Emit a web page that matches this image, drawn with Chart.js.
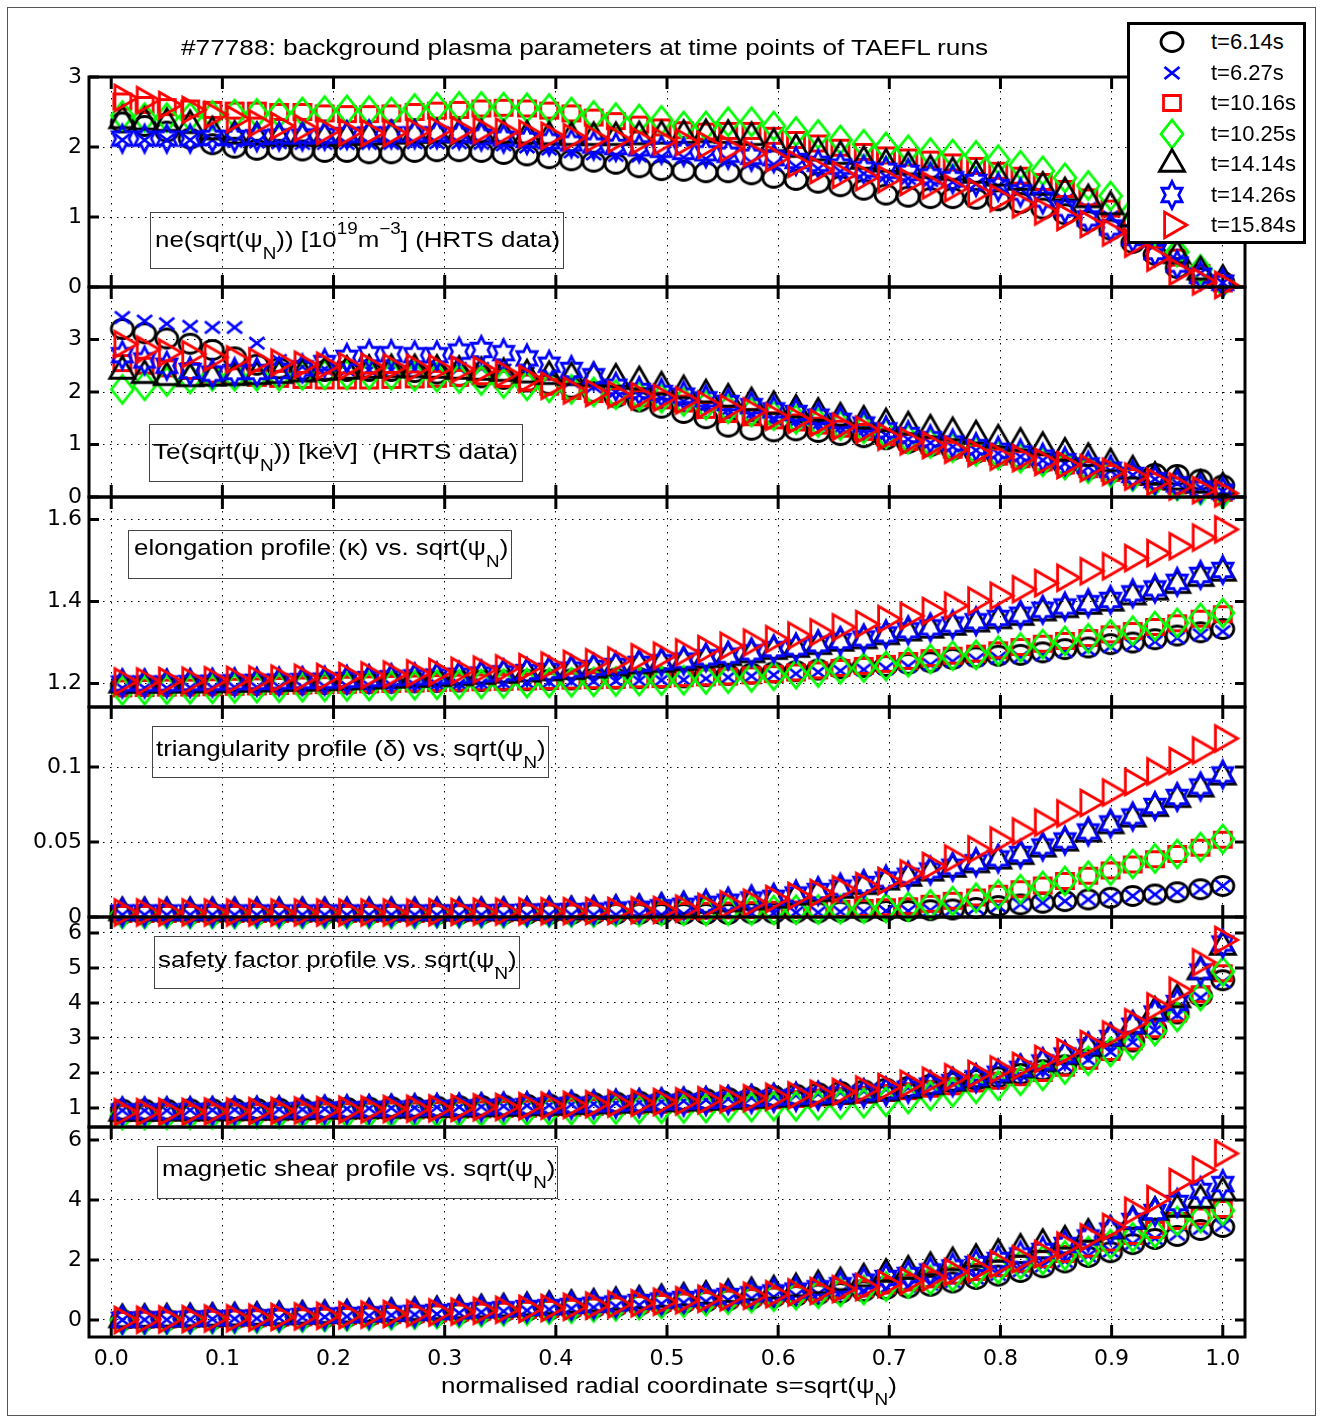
<!DOCTYPE html>
<html>
<head>
<meta charset="utf-8">
<script src="https://cdn.jsdelivr.net/npm/chart.js@4.4.1/dist/chart.umd.min.js"></script>
<style>
  html, body { margin: 0; padding: 0; background: #fff; }
  #fig { position: relative; width: 1322px; height: 1421px; overflow: hidden;
         font-family: "Liberation Sans", Arial, sans-serif; color: #000; }
  #outer { position: absolute; left: 7px; top: 7px; width: 1309px; height: 1409px;
           border: 1px solid #555; box-sizing: border-box; }
  canvas.panel { position: absolute; left: 0; }
  .txt { position: absolute; white-space: nowrap; font-size: 22px; line-height: 1;
         transform-origin: 0 50%; transform: translateY(-50%); z-index: 5; }
  .txt sub { font-size: 16px; position: relative; top: 12px; vertical-align: baseline; }
  .txt sup { font-size: 16px; position: relative; top: -13px; vertical-align: baseline; }
  .box { position: absolute; border: 1px solid #444; box-sizing: border-box; z-index: 4; }
  #legend { position: absolute; left: 1127px; top: 22px; width: 179px; height: 222px;
            background: #fff; border: 3px solid #000; box-sizing: border-box; z-index: 10; }
  .lgmark { position: absolute; }
  .lgtext { position: absolute; font-size: 22px; line-height: 1; transform: translateY(-50%); white-space: nowrap; }
</style>
</head>
<body>
<div id="fig">
  <div id="outer"></div>

  <div class="txt" data-w="807" style="left:181px;top:48px">#77788: background plasma parameters at time points of TAEFL runs</div>

  <div class="box" style="left:150px;top:212px;width:414px;height:57px"></div>
  <div class="txt" data-w="405" style="left:155px;top:240px">ne(sqrt(ψ<sub>N</sub>)) [10<sup>19</sup>m<sup>−3</sup>] (HRTS data)</div>

  <div class="box" style="left:149px;top:424px;width:374px;height:58px"></div>
  <div class="txt" data-w="365" style="left:153px;top:452px">Te(sqrt(ψ<sub>N</sub>)) [keV]&nbsp; (HRTS data)</div>

  <div class="box" style="left:128px;top:530px;width:384px;height:49px"></div>
  <div class="txt" data-w="374" style="left:134px;top:548px">elongation profile (κ) vs. sqrt(ψ<sub>N</sub>)</div>

  <div class="box" style="left:152px;top:726px;width:397px;height:52px"></div>
  <div class="txt" data-w="390" style="left:156px;top:749px">triangularity profile (δ) vs. sqrt(ψ<sub>N</sub>)</div>

  <div class="box" style="left:154px;top:936px;width:366px;height:53px"></div>
  <div class="txt" data-w="359" style="left:158px;top:960px">safety factor profile vs. sqrt(ψ<sub>N</sub>)</div>

  <div class="box" style="left:157px;top:1146px;width:401px;height:53px"></div>
  <div class="txt" data-w="393" style="left:162px;top:1169px">magnetic shear profile vs. sqrt(ψ<sub>N</sub>)</div>

  <div class="txt" data-w="456" style="left:441px;top:1386px">normalised radial coordinate s=sqrt(ψ<sub>N</sub>)</div>

  <div id="legend"></div>
</div>

<script>
// radial grid s = sqrt(psi_N), one entry per marker
const sPos = [
  0.010, 0.030, 0.050, 0.071, 0.091, 0.111, 0.131, 0.151, 0.172, 0.192,
  0.212, 0.232, 0.252, 0.273, 0.293, 0.313, 0.333, 0.353, 0.374, 0.394,
  0.414, 0.434, 0.454, 0.475, 0.495, 0.515, 0.535, 0.555, 0.576, 0.596,
  0.616, 0.636, 0.656, 0.677, 0.697, 0.717, 0.737, 0.757, 0.778, 0.798,
  0.818, 0.838, 0.858, 0.879, 0.899, 0.919, 0.939, 0.959, 0.980, 1.000
];

const seriesLabels = ['t=6.14s', 't=6.27s', 't=10.16s', 't=10.25s', 't=14.14s', 't=14.26s', 't=15.84s'];

const xTicks = [0, 0.1, 0.2, 0.3, 0.4, 0.5, 0.6, 0.7, 0.8, 0.9, 1.0];
const xTickLabels = ['0.0', '0.1', '0.2', '0.3', '0.4', '0.5', '0.6', '0.7', '0.8', '0.9', '1.0'];

const neTicks = [0, 1, 2, 3];          const neTickLabels = ['0', '1', '2', '3'];
const teTicks = [0, 1, 2, 3];          const teTickLabels = ['0', '1', '2', '3'];
const kapTicks = [1.2, 1.4, 1.6];      const kapTickLabels = ['1.2', '1.4', '1.6'];
const delTicks = [0, 0.05, 0.1];       const delTickLabels = ['0', '0.05', '0.1'];
const qTicks = [1, 2, 3, 4, 5, 6];     const qTickLabels = ['1', '2', '3', '4', '5', '6'];
const shTicks = [0, 2, 4, 6];          const shTickLabels = ['0', '2', '4', '6'];

// ne [1e19 m^-3]
const neCirc = [2.35,2.3,2.22,2.12,2.04,1.99,1.96,1.96,1.95,1.93, 1.93,1.91,1.91,1.93,1.94,1.94,1.93,1.9,1.88,1.84,
  1.81,1.79,1.76,1.71,1.67,1.66,1.64,1.64,1.61,1.56, 1.53,1.49,1.44,1.39,1.32,1.29,1.27,1.27,1.26,1.24,
  1.2,1.12,1.04,0.94,0.82,0.63,0.46,0.27,0.13,0.07];
const neX = [2.1,2.1,2.1,2.1,2.1,2.08,2.07,2.06,2.05,2.05, 2.05,2.05,2.05,2.06,2.06,2.06,2.05,2.03,2.0,1.97,
  1.93,1.9,1.88,1.87,1.86,1.85,1.83,1.81,1.78,1.75, 1.72,1.69,1.65,1.62,1.58,1.55,1.52,1.5,1.47,1.44,
  1.4,1.33,1.24,1.12,1.0,0.8,0.6,0.38,0.2,0.06];
const neSq = [2.65,2.6,2.57,2.55,2.53,2.52,2.52,2.5,2.5,2.48, 2.47,2.47,2.48,2.5,2.52,2.53,2.55,2.56,2.55,2.52,
  2.48,2.42,2.37,2.32,2.28,2.24,2.22,2.23,2.23,2.16, 2.1,2.05,1.99,1.93,1.88,1.85,1.82,1.78,1.73,1.66,
  1.59,1.5,1.4,1.28,1.12,0.92,0.68,0.42,0.2,0.05];
const neDiam = [2.45,2.42,2.42,2.43,2.45,2.47,2.48,2.48,2.5,2.52, 2.53,2.52,2.5,2.55,2.57,2.58,2.58,2.57,2.56,2.55,
  2.5,2.45,2.42,2.4,2.38,2.3,2.3,2.36,2.36,2.3, 2.22,2.18,2.1,2.04,2.0,1.96,1.92,1.9,1.88,1.82,
  1.74,1.66,1.56,1.45,1.3,1.08,0.8,0.5,0.25,0.06];
const neTri = [2.38,2.36,2.34,2.31,2.22,2.16,2.14,2.13,2.13,2.13, 2.14,2.15,2.16,2.17,2.18,2.18,2.18,2.17,2.16,2.15,
  2.14,2.14,2.14,2.15,2.16,2.17,2.18,2.17,2.14,2.05, 1.97,1.92,1.87,1.8,1.76,1.72,1.67,1.64,1.6,1.56,
  1.5,1.43,1.35,1.25,1.15,0.98,0.75,0.45,0.22,0.1];
const neHex = [2.12,2.12,2.12,2.12,2.13,2.13,2.14,2.15,2.15,2.16, 2.17,2.18,2.18,2.18,2.18,2.17,2.15,2.12,2.1,2.08,
  2.05,2.02,2.0,1.98,1.96,1.93,1.91,1.89,1.86,1.84, 1.8,1.76,1.72,1.68,1.66,1.63,1.58,1.54,1.5,1.43,
  1.35,1.25,1.12,0.98,0.85,0.7,0.5,0.32,0.16,0.06];
const neRtri = [2.7,2.67,2.6,2.53,2.46,2.4,2.34,2.3,2.27,2.23, 2.21,2.2,2.2,2.22,2.24,2.24,2.24,2.22,2.19,2.16,
  2.14,2.12,2.11,2.09,2.08,2.07,2.03,1.98,1.91,1.84, 1.76,1.67,1.6,1.57,1.54,1.5,1.45,1.41,1.35,1.27,
  1.18,1.08,1.0,0.9,0.78,0.62,0.42,0.22,0.08,0.03];

// Te [keV]
const teCirc = [3.2,3.12,3.02,2.92,2.8,2.66,2.52,2.45,2.42,2.4, 2.4,2.4,2.4,2.38,2.35,2.3,2.28,2.25,2.2,2.15,
  2.08,2.0,1.9,1.82,1.7,1.6,1.5,1.34,1.28,1.25, 1.27,1.24,1.18,1.14,1.1,1.03,0.97,0.9,0.84,0.78,
  0.73,0.66,0.6,0.53,0.47,0.42,0.44,0.42,0.33,0.22];
const teX = [3.42,3.35,3.3,3.25,3.23,3.23,2.93,2.6,2.48,2.44, 2.42,2.42,2.42,2.43,2.45,2.45,2.45,2.42,2.36,2.3,
  2.2,2.1,2.0,1.94,1.88,1.82,1.74,1.66,1.58,1.5, 1.44,1.38,1.32,1.26,1.18,1.1,1.03,0.96,0.89,0.83,
  0.77,0.7,0.64,0.57,0.5,0.42,0.34,0.26,0.18,0.11];
const teSq = [2.55,2.5,2.45,2.4,2.33,2.3,2.27,2.25,2.23,2.22, 2.22,2.22,2.23,2.24,2.25,2.27,2.3,2.25,2.18,2.1,
  2.02,1.96,1.92,1.88,1.84,1.78,1.66,1.58,1.52,1.46, 1.42,1.36,1.3,1.24,1.14,1.05,0.98,0.9,0.84,0.77,
  0.72,0.66,0.6,0.53,0.46,0.38,0.3,0.22,0.14,0.08];
const teDiam = [2.05,2.12,2.2,2.25,2.3,2.3,2.3,2.3,2.32,2.33, 2.33,2.33,2.32,2.3,2.28,2.26,2.22,2.16,2.12,2.08,
  2.05,2.0,1.95,1.92,1.88,1.82,1.75,1.68,1.62,1.55, 1.48,1.42,1.36,1.3,1.2,1.1,1.02,0.94,0.87,0.8,
  0.74,0.67,0.61,0.54,0.47,0.39,0.3,0.21,0.13,0.06];
const teTri = [2.4,2.32,2.28,2.26,2.27,2.28,2.3,2.32,2.35,2.38, 2.4,2.42,2.43,2.43,2.42,2.4,2.38,2.36,2.33,2.3,
  2.28,2.27,2.25,2.2,2.1,2.03,1.95,1.87,1.8,1.73, 1.66,1.6,1.51,1.45,1.4,1.34,1.28,1.23,1.17,1.09,
  1.03,0.95,0.84,0.74,0.64,0.5,0.38,0.29,0.23,0.18];
const teHex = [2.7,2.6,2.5,2.4,2.35,2.38,2.38,2.4,2.45,2.55, 2.65,2.72,2.72,2.7,2.7,2.77,2.8,2.74,2.64,2.52,
  2.42,2.3,2.1,2.02,1.98,1.93,1.86,1.79,1.73,1.65, 1.6,1.53,1.45,1.38,1.27,1.18,1.1,1.02,0.95,0.88,
  0.83,0.75,0.68,0.6,0.52,0.42,0.32,0.24,0.16,0.1];
const teRtri = [2.91,2.81,2.75,2.72,2.66,2.62,2.58,2.56,2.52,2.5, 2.49,2.48,2.47,2.46,2.45,2.43,2.42,2.35,2.25,2.12,
  2.03,1.98,1.95,1.92,1.89,1.84,1.76,1.69,1.63,1.53, 1.47,1.41,1.34,1.28,1.15,1.06,0.99,0.9,0.84,0.77,
  0.74,0.67,0.61,0.55,0.48,0.39,0.29,0.2,0.13,0.07];

// elongation kappa
const kapCirc = [1.195,1.195,1.195,1.196,1.196,1.197,1.197,1.198,1.198,1.199, 1.2,1.201,1.202,1.203,1.204,1.205,1.206,1.207,1.208,1.209,
  1.21,1.211,1.212,1.213,1.214,1.215,1.218,1.221,1.224,1.227, 1.23,1.234,1.237,1.24,1.243,1.248,1.252,1.26,1.264,1.268,
  1.27,1.276,1.284,1.288,1.296,1.3,1.308,1.317,1.325,1.333];
const kapX = [1.189,1.189,1.189,1.19,1.19,1.191,1.191,1.192,1.192,1.193, 1.194,1.195,1.196,1.197,1.198,1.199,1.2,1.201,1.202,1.203,
  1.204,1.205,1.206,1.207,1.208,1.209,1.212,1.215,1.218,1.221, 1.224,1.228,1.231,1.234,1.237,1.242,1.246,1.254,1.258,1.262,
  1.264,1.27,1.278,1.282,1.29,1.294,1.302,1.311,1.319,1.327];
const kapSq = [1.188,1.189,1.19,1.19,1.191,1.192,1.193,1.194,1.195,1.196, 1.197,1.198,1.199,1.2,1.201,1.202,1.203,1.204,1.205,1.206,
  1.207,1.208,1.209,1.21,1.211,1.213,1.215,1.217,1.22,1.223, 1.227,1.232,1.238,1.243,1.248,1.255,1.262,1.268,1.273,1.281,
  1.289,1.297,1.304,1.311,1.32,1.328,1.338,1.347,1.358,1.369];
const kapDiam = [1.183,1.184,1.185,1.186,1.187,1.188,1.189,1.19,1.191,1.192, 1.193,1.194,1.195,1.196,1.197,1.198,1.199,1.2,1.201,1.202,
  1.203,1.204,1.205,1.206,1.207,1.208,1.21,1.212,1.215,1.219, 1.223,1.227,1.235,1.239,1.243,1.252,1.26,1.268,1.27,1.28,
  1.288,1.296,1.304,1.31,1.32,1.329,1.34,1.348,1.36,1.372];
const kapTri = [1.197,1.197,1.197,1.198,1.198,1.199,1.2,1.201,1.202,1.203, 1.205,1.207,1.209,1.211,1.213,1.215,1.218,1.221,1.224,1.227,
  1.23,1.234,1.239,1.244,1.248,1.252,1.259,1.264,1.271,1.279, 1.284,1.291,1.299,1.305,1.315,1.324,1.331,1.338,1.346,1.354,
  1.362,1.373,1.381,1.389,1.397,1.412,1.424,1.44,1.457,1.47];
const kapHex = [1.2,1.2,1.2,1.201,1.202,1.203,1.204,1.205,1.206,1.207, 1.209,1.211,1.213,1.215,1.217,1.219,1.222,1.225,1.228,1.231,
  1.234,1.238,1.243,1.248,1.252,1.256,1.264,1.268,1.276,1.284, 1.288,1.296,1.304,1.31,1.32,1.33,1.337,1.344,1.352,1.36,
  1.368,1.38,1.388,1.396,1.404,1.42,1.432,1.448,1.465,1.477];
const kapRtri = [1.205,1.205,1.206,1.207,1.208,1.209,1.21,1.212,1.214,1.216, 1.218,1.22,1.222,1.225,1.228,1.231,1.234,1.237,1.24,1.244,
  1.248,1.252,1.256,1.264,1.268,1.276,1.284,1.292,1.3,1.308, 1.317,1.325,1.337,1.345,1.357,1.365,1.377,1.39,1.402,1.414,
  1.43,1.445,1.458,1.474,1.486,1.506,1.518,1.535,1.556,1.576];

// triangularity delta
const delCirc = [0.002,0.002,0.002,0.002,0.002,0.002,0.002,0.002,0.002,0.002, 0.002,0.002,0.002,0.002,0.002,0.002,0.002,0.002,0.002,0.002,
  0.002,0.002,0.002,0.002,0.002,0.002,0.002,0.002,0.0025,0.0025, 0.003,0.003,0.0035,0.0035,0.004,0.004,0.0045,0.005,0.006,0.0073,
  0.0084,0.0095,0.0106,0.0117,0.0128,0.014,0.015,0.0165,0.0185,0.0207];
const delX = [0.0015,0.0015,0.0015,0.0015,0.0015,0.0015,0.0015,0.0015,0.0015,0.0015, 0.0015,0.0015,0.0015,0.0015,0.0015,0.0015,0.0015,0.0015,0.0015,0.0015,
  0.0015,0.0015,0.0015,0.0015,0.0015,0.002,0.002,0.002,0.0025,0.0025, 0.003,0.003,0.0035,0.0035,0.004,0.004,0.0045,0.005,0.006,0.0073,
  0.0084,0.0095,0.0106,0.0117,0.0128,0.014,0.015,0.0165,0.0185,0.0207];
const delSq = [0.002,0.002,0.002,0.002,0.002,0.002,0.002,0.002,0.002,0.002, 0.002,0.002,0.002,0.002,0.0025,0.0025,0.0025,0.0025,0.003,0.003,
  0.003,0.003,0.0035,0.0035,0.004,0.004,0.0042,0.0044,0.0046,0.0048, 0.005,0.0052,0.0055,0.006,0.0065,0.0072,0.0088,0.0108,0.013,0.0155,
  0.0185,0.021,0.024,0.0275,0.031,0.035,0.0385,0.042,0.0462,0.0515];
const delDiam = [0.002,0.002,0.002,0.002,0.002,0.002,0.002,0.002,0.002,0.002, 0.002,0.002,0.002,0.002,0.0025,0.0025,0.0025,0.0025,0.003,0.003,
  0.003,0.003,0.0035,0.0035,0.004,0.004,0.004,0.0042,0.0044,0.0046, 0.0048,0.005,0.0052,0.0055,0.006,0.0068,0.0084,0.0106,0.0128,0.015,
  0.0185,0.0207,0.024,0.0275,0.031,0.0354,0.039,0.042,0.0466,0.052];
const delTri = [0.003,0.003,0.003,0.003,0.003,0.003,0.003,0.003,0.003,0.003, 0.003,0.003,0.003,0.003,0.003,0.003,0.0031,0.0032,0.0033,0.0035,
  0.0037,0.004,0.0045,0.005,0.0058,0.0067,0.0078,0.009,0.0103,0.0115, 0.0135,0.0158,0.018,0.0205,0.0235,0.026,0.0295,0.032,0.035,0.0375,
  0.0405,0.0455,0.0495,0.0555,0.061,0.0655,0.0725,0.0785,0.0855,0.0935];
const delHex = [0.003,0.003,0.003,0.003,0.003,0.003,0.003,0.003,0.003,0.003, 0.003,0.003,0.003,0.003,0.003,0.003,0.0032,0.0034,0.0036,0.0038,
  0.004,0.0043,0.005,0.0055,0.0065,0.0075,0.0088,0.0102,0.0117,0.0128, 0.015,0.0173,0.0196,0.022,0.025,0.0275,0.031,0.0335,0.0365,0.039,
  0.042,0.047,0.051,0.057,0.0624,0.067,0.074,0.08,0.087,0.095];
const delRtri = [0.003,0.003,0.003,0.003,0.003,0.003,0.003,0.003,0.003,0.003, 0.003,0.003,0.003,0.003,0.0032,0.0034,0.0035,0.0036,0.0037,0.0038,
  0.0039,0.004,0.004,0.0045,0.0047,0.0056,0.0068,0.0085,0.0095,0.012, 0.014,0.016,0.0185,0.0207,0.024,0.029,0.034,0.039,0.045,0.051,
  0.057,0.063,0.069,0.076,0.083,0.09,0.097,0.104,0.111,0.119];

// safety factor q
const qCirc = [0.95,0.95,0.95,0.96,0.96,0.97,0.97,0.98,0.98,0.99, 1.0,1.01,1.02,1.03,1.04,1.05,1.06,1.07,1.09,1.1,
  1.12,1.14,1.16,1.18,1.2,1.22,1.25,1.28,1.31,1.34, 1.38,1.42,1.46,1.5,1.55,1.6,1.66,1.72,1.8,1.88,
  1.97,2.08,2.22,2.4,2.62,2.9,3.25,3.7,4.2,4.65];
const qX = [0.93,0.93,0.93,0.94,0.94,0.95,0.95,0.96,0.96,0.97, 0.98,0.99,1.0,1.01,1.02,1.03,1.04,1.05,1.07,1.08,
  1.1,1.12,1.14,1.16,1.18,1.2,1.23,1.26,1.29,1.32, 1.36,1.4,1.44,1.48,1.53,1.58,1.64,1.7,1.78,1.86,
  1.95,2.06,2.2,2.38,2.6,2.88,3.22,3.65,4.15,4.6];
const qSq = [0.85,0.85,0.86,0.86,0.87,0.87,0.88,0.88,0.89,0.9, 0.91,0.92,0.93,0.93,0.94,0.95,0.96,0.97,0.98,1.0,
  1.01,1.03,1.05,1.07,1.09,1.11,1.13,1.16,1.19,1.22, 1.26,1.3,1.34,1.38,1.43,1.48,1.55,1.62,1.7,1.78,
  1.88,2.0,2.15,2.35,2.6,2.9,3.25,3.7,4.25,4.85];
const qDiam = [0.8,0.8,0.81,0.81,0.82,0.82,0.83,0.83,0.84,0.84, 0.85,0.86,0.87,0.87,0.88,0.89,0.9,0.91,0.92,0.93,
  0.94,0.95,0.96,0.97,0.98,0.99,1.0,1.02,1.03,1.05, 1.05,1.08,1.11,1.14,1.18,1.26,1.35,1.45,1.55,1.64,
  1.78,1.92,2.1,2.35,2.6,2.8,3.2,3.6,4.2,4.9];
const qTri = [0.86,0.86,0.87,0.87,0.88,0.88,0.89,0.9,0.91,0.92, 0.93,0.94,0.95,0.96,0.97,0.98,0.99,1.0,1.02,1.03,
  1.05,1.07,1.09,1.11,1.13,1.15,1.17,1.2,1.23,1.26, 1.29,1.32,1.35,1.39,1.44,1.52,1.62,1.72,1.82,1.95,
  2.1,2.28,2.48,2.72,3.0,3.35,3.75,4.1,4.9,5.6];
const qHex = [0.9,0.9,0.9,0.91,0.91,0.92,0.92,0.93,0.94,0.95, 0.96,0.97,0.98,0.99,1.0,1.01,1.02,1.04,1.05,1.07,
  1.09,1.1,1.12,1.14,1.16,1.18,1.2,1.23,1.26,1.29, 1.32,1.35,1.38,1.42,1.47,1.55,1.64,1.74,1.85,1.98,
  2.12,2.3,2.5,2.75,3.0,3.35,3.7,4.0,4.9,5.7];
const qRtri = [0.88,0.88,0.89,0.89,0.9,0.9,0.91,0.92,0.93,0.94, 0.95,0.96,0.97,0.98,0.99,1.0,1.02,1.03,1.05,1.07,
  1.09,1.11,1.13,1.15,1.17,1.19,1.22,1.25,1.28,1.32, 1.36,1.41,1.46,1.53,1.6,1.69,1.78,1.88,1.97,2.1,
  2.2,2.4,2.6,2.83,3.1,3.45,3.9,4.35,5.16,5.8];

// magnetic shear
const shCirc = [0.0,0.0,0.01,0.02,0.03,0.04,0.05,0.06,0.08,0.09, 0.11,0.13,0.15,0.17,0.19,0.22,0.25,0.28,0.31,0.34,
  0.37,0.41,0.45,0.49,0.53,0.57,0.61,0.66,0.71,0.76, 0.8,0.85,0.9,0.96,1.03,1.08,1.14,1.25,1.37,1.48,
  1.6,1.76,1.92,2.1,2.26,2.53,2.7,2.8,3.0,3.1];
const shX = [0.0,0.01,0.01,0.02,0.03,0.04,0.05,0.07,0.08,0.1, 0.12,0.14,0.16,0.18,0.2,0.23,0.26,0.29,0.32,0.35,
  0.38,0.42,0.46,0.5,0.54,0.58,0.62,0.67,0.72,0.77, 0.82,0.87,0.92,0.98,1.05,1.12,1.19,1.28,1.4,1.52,
  1.64,1.8,1.96,2.14,2.3,2.55,2.72,2.85,3.05,3.15];
const shSq = [0.0,0.01,0.02,0.03,0.04,0.05,0.06,0.08,0.09,0.11, 0.13,0.15,0.17,0.19,0.22,0.25,0.28,0.31,0.34,0.37,
  0.41,0.45,0.49,0.53,0.57,0.62,0.67,0.72,0.77,0.82, 0.87,0.93,0.99,1.05,1.15,1.25,1.36,1.48,1.6,1.73,
  1.88,2.03,2.2,2.38,2.58,2.8,3.0,3.3,3.45,3.7];
const shDiam = [0.0,0.0,0.01,0.02,0.03,0.04,0.05,0.07,0.08,0.1, 0.12,0.14,0.16,0.18,0.2,0.23,0.26,0.29,0.32,0.35,
  0.38,0.42,0.46,0.5,0.54,0.58,0.63,0.68,0.73,0.78, 0.83,0.88,0.94,1.0,1.12,1.22,1.33,1.45,1.58,1.7,
  1.85,2.0,2.15,2.3,2.53,2.76,2.9,3.3,3.4,3.65];
const shTri = [0.02,0.03,0.04,0.05,0.07,0.08,0.1,0.12,0.14,0.16, 0.18,0.21,0.23,0.26,0.29,0.32,0.35,0.38,0.42,0.46,
  0.5,0.54,0.59,0.64,0.69,0.74,0.8,0.86,0.92,0.98, 1.05,1.15,1.25,1.38,1.53,1.64,1.76,1.92,2.03,2.2,
  2.37,2.53,2.64,2.87,2.98,3.3,3.6,3.7,4.0,4.25];
const shHex = [0.01,0.02,0.03,0.04,0.06,0.07,0.09,0.11,0.13,0.15, 0.17,0.19,0.22,0.24,0.27,0.3,0.33,0.36,0.4,0.43,
  0.47,0.51,0.55,0.6,0.65,0.7,0.75,0.8,0.86,0.92, 0.98,1.06,1.16,1.28,1.4,1.5,1.62,1.75,1.87,2.0,
  2.15,2.3,2.5,2.75,2.98,3.3,3.6,3.9,4.3,4.53];
const shRtri = [0.0,0.01,0.02,0.03,0.05,0.06,0.08,0.1,0.12,0.14, 0.16,0.18,0.2,0.22,0.25,0.28,0.31,0.34,0.37,0.4,
  0.44,0.48,0.52,0.56,0.61,0.66,0.71,0.76,0.81,0.86, 0.92,0.97,1.03,1.1,1.2,1.3,1.42,1.6,1.7,1.87,
  2.03,2.2,2.48,2.76,3.1,3.64,4.03,4.6,5.0,5.55];

// MATLAB-like markers (ko, bx, rs, gd, k^, bh, r>)
const markerKinds = ['circle', 'cross', 'square', 'diamond', 'triUp', 'hexagram', 'triRight'];
const markerColors = ['#000000', '#0000ff', '#ff0000', '#00ff00', '#000000', '#0000ff', '#ff0000'];

function makeMarker(kind, color) {
  const c = document.createElement('canvas');
  c.width = 36; c.height = 36;
  const g = c.getContext('2d');
  g.strokeStyle = color;
  g.lineWidth = 2.8;
  g.lineJoin = 'miter';
  g.translate(18, 18);
  g.beginPath();
  if (kind === 'circle') {
    g.ellipse(0, 0, 11, 9.5, 0, 0, Math.PI * 2);
  } else if (kind === 'cross') {
    g.moveTo(-7.5, -6); g.lineTo(7.5, 6);
    g.moveTo(-7.5, 6); g.lineTo(7.5, -6);
  } else if (kind === 'square') {
    g.rect(-8.5, -7.5, 17, 15);
  } else if (kind === 'diamond') {
    g.moveTo(0, -14); g.lineTo(11, 0); g.lineTo(0, 14); g.lineTo(-11, 0); g.closePath();
  } else if (kind === 'triUp') {
    const R = 14.5;
    g.moveTo(0, -R); g.lineTo(R * 0.866, R / 2); g.lineTo(-R * 0.866, R / 2); g.closePath();
  } else if (kind === 'triRight') {
    const R = 14.8;
    g.moveTo(R, 0); g.lineTo(-R / 2, -R * 0.866); g.lineTo(-R / 2, R * 0.866); g.closePath();
  } else if (kind === 'hexagram') {
    const R = 13.5, r = R / Math.sqrt(3);
    for (let k = 0; k < 12; k++) {
      const a = -Math.PI / 2 + k * Math.PI / 6;
      const rr = k % 2 ? r : R;
      const px = Math.cos(a) * rr * 0.86, py = Math.sin(a) * rr;
      if (k === 0) g.moveTo(px, py); else g.lineTo(px, py);
    }
    g.closePath();
  }
  g.stroke();
  return c;
}

const markers = markerKinds.map((k, i) => makeMarker(k, markerColors[i]));

const panels = [
  { top: 77,   min: 0,      max: 3,     ticks: neTicks,  labels: neTickLabels,  data: [neCirc, neX, neSq, neDiam, neTri, neHex, neRtri] },
  { top: 287,  min: 0,      max: 4,     ticks: teTicks,  labels: teTickLabels,  data: [teCirc, teX, teSq, teDiam, teTri, teHex, teRtri] },
  { top: 497,  min: 1.1427, max: 1.655, ticks: kapTicks, labels: kapTickLabels, data: [kapCirc, kapX, kapSq, kapDiam, kapTri, kapHex, kapRtri] },
  { top: 707,  min: 0,      max: 0.14,  ticks: delTicks, labels: delTickLabels, data: [delCirc, delX, delSq, delDiam, delTri, delHex, delRtri] },
  { top: 917,  min: 0.457,  max: 6.457, ticks: qTicks,   labels: qTickLabels,   data: [qCirc, qX, qSq, qDiam, qTri, qHex, qRtri] },
  { top: 1127, min: -0.567, max: 6.433, ticks: shTicks,  labels: shTickLabels,  data: [shCirc, shX, shSq, shDiam, shTri, shHex, shRtri] }
];

const tickFont = { family: "'DejaVu Sans', sans-serif", size: 22 };

// box + inward tick marks on all four sides, drawn under the markers
const framePlugin = {
  id: 'frame',
  beforeDatasetsDraw(chart) {
    const { ctx, chartArea: a } = chart;
    const x = chart.scales.x, y = chart.scales.y;
    ctx.save();
    ctx.strokeStyle = '#000';
    ctx.lineWidth = 3;
    ctx.beginPath();
    x.ticks.forEach(t => {
      const px = x.getPixelForValue(t.value);
      ctx.moveTo(px, a.top); ctx.lineTo(px, a.top + 12);
      ctx.moveTo(px, a.bottom); ctx.lineTo(px, a.bottom - 12);
    });
    y.ticks.forEach(t => {
      const py = y.getPixelForValue(t.value);
      ctx.moveTo(a.left, py); ctx.lineTo(a.left + 10, py);
      ctx.moveTo(a.right, py); ctx.lineTo(a.right - 10, py);
    });
    ctx.stroke();
    ctx.strokeRect(a.left, a.top, a.right - a.left, a.bottom - a.top);
    ctx.restore();
  }
};

const fig = document.getElementById('fig');

panels.forEach((p, idx) => {
  const last = idx === panels.length - 1;
  // padding must exceed the y axis' own label half-height + tick padding (~20px)
  const padTop = 26, padBot = last ? 5 : 26, xH = last ? 40 : 0;
  const h = padTop + 210 + xH + padBot;
  const cv = document.createElement('canvas');
  cv.className = 'panel';
  cv.width = 1322; cv.height = h;
  cv.style.top = (p.top - padTop) + 'px';
  cv.style.width = '1322px'; cv.style.height = h + 'px';
  fig.insertBefore(cv, document.getElementById('legend'));

  new Chart(cv.getContext('2d'), {
    type: 'scatter',
    data: {
      datasets: p.data.map((arr, k) => ({
        label: seriesLabels[k],
        data: sPos.map((s, i) => ({ x: s, y: arr[i] })),
        pointStyle: markers[k],
        pointRadius: 11,
        pointHoverRadius: 11,
        order: 7 - k,
        clip: false
      }))
    },
    options: {
      responsive: false,
      maintainAspectRatio: false,
      animation: false,
      events: [],
      layout: { autoPadding: false, padding: { left: 0, right: 77, top: padTop, bottom: padBot } },
      plugins: { legend: { display: false }, tooltip: { enabled: false } },
      scales: {
        x: {
          type: 'linear', min: -0.02, max: 1.02,
          afterBuildTicks: s => { s.ticks = xTicks.map(v => ({ value: v })); },
          afterFit: s => { s.height = xH; },
          ticks: { display: last, padding: 9, autoSkip: false, maxRotation: 0, color: '#000', font: tickFont,
                   callback: (v, i) => xTickLabels[i] },
          grid: { color: '#000', lineWidth: 1, drawTicks: false },
          border: { display: false, dash: [1.5, 5.5] }
        },
        y: {
          type: 'linear', min: p.min, max: p.max,
          afterBuildTicks: s => { s.ticks = p.ticks.map(v => ({ value: v })); },
          afterFit: s => { s.width = 89; },
          ticks: { padding: 7, autoSkip: false, color: '#000', font: tickFont,
                   callback: (v, i) => p.labels[i] },
          grid: { color: '#000', lineWidth: 1, drawTicks: false },
          border: { display: false, dash: [1.5, 5.5] }
        }
      }
    },
    plugins: [framePlugin]
  });
});

// legend box (top right, overlapping the first panel like the original)
const legend = document.getElementById('legend');
seriesLabels.forEach((lab, i) => {
  const cy = 42 + i * 30.5 - 22 - 3;
  const m = makeMarker(markerKinds[i], markerColors[i]);
  m.className = 'lgmark';
  m.style.left = (1172 - 18 - 1127 - 3) + 'px';
  m.style.top = (cy - 18) + 'px';
  legend.appendChild(m);
  const t = document.createElement('div');
  t.className = 'lgtext';
  t.textContent = lab;
  t.style.left = (1211 - 1127 - 3) + 'px';
  t.style.top = cy + 'px';
  legend.appendChild(t);
});

// stretch long labels to the widths seen in the original figure
function fitTexts() {
  document.querySelectorAll('[data-w]').forEach(el => {
    const w = el.offsetWidth;
    if (w > 0) el.style.transform = 'translateY(-50%) scaleX(' + (el.dataset.w / w) + ')';
  });
}
fitTexts();
if (document.fonts && document.fonts.ready) document.fonts.ready.then(fitTexts);
</script>
</body>
</html>
